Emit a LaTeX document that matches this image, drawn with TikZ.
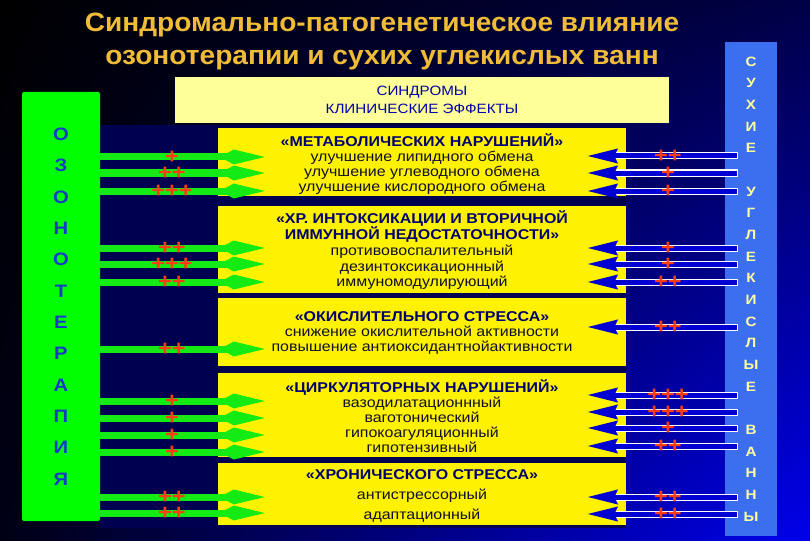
\documentclass[tikz,border=0pt]{standalone}
\usepackage{fontspec}
\setmainfont[FakeStretch=1.125]{Liberation Sans}
\newfontfamily\titlefont[FakeStretch=1.06]{Liberation Sans}
\usetikzlibrary{arrows.meta,shadings}
\definecolor{bgtopright}{RGB}{0,0,70}
\definecolor{bgbotleft}{RGB}{0,0,20}
\definecolor{bgbotright}{RGB}{0,0,235}
\definecolor{navy}{RGB}{0,0,80}
\definecolor{titlegold}{RGB}{240,188,55}
\definecolor{ozgreen}{RGB}{0,255,0}
\definecolor{argreen}{RGB}{20,235,20}
\definecolor{ozletter}{RGB}{20,60,200}
\definecolor{hdryellow}{RGB}{255,255,153}
\definecolor{hdrtext}{RGB}{0,0,170}
\definecolor{headtext}{RGB}{0,0,110}
\definecolor{itemtext}{RGB}{15,15,45}
\definecolor{plusred}{RGB}{255,60,20}
\definecolor{bathblue}{RGB}{60,110,240}
\definecolor{bathletter}{RGB}{255,255,160}
\definecolor{arblue}{RGB}{0,0,210}
\tikzstyle{title}=[anchor=base, text=titlegold, font=\titlefont\bfseries\fontsize{26.5}{30}\selectfont]
\tikzset{synbox/.style={rectangle, fill=yellow, minimum width=408pt, inner sep=0pt}}
\tikzset{syntext/.style={align=center, text=itemtext, inner sep=0pt, font=\fontsize{14.2}{15.3}\selectfont}}
\tikzset{plus/.style={text=plusred, inner sep=0pt, font=\bfseries\fontsize{21}{21}\selectfont}}
\tikzset{ozarrow/.style={draw=argreen, line width=7pt, -{Kite[length=45pt,width=15pt,inset=14pt]}}}
\tikzset{batharrow/.style={draw=arblue, line width=5pt, -{Stealth[length=30pt,width=14pt,inset=3pt]},
      preaction={draw=white, line width=7pt, arrows=-, shorten >=29pt, shorten <=-1pt}}}
\newcommand{\hd}[1]{{\bfseries\color{headtext}\fontsize{14.2}{15}\selectfont #1}}

\begin{document}
\begin{tikzpicture}[x=1pt,y=-1pt]
		\useasboundingbox (0,0) rectangle (810,540);
		\shade[upper left=black, upper right=bgtopright, lower left=bgbotleft, lower right=bgbotright] (0,0) rectangle (810,540);
		\fill[navy] (100,125) rectangle (626,528);
		\node[title] (title1) at (382,32) {Синдромально-патогенетическое влияние};
		\node[title] (title2) at (382,65) {озонотерапии и сухих углекислых ванн};
		\node[fill=hdryellow, minimum width=494pt, minimum height=46pt, inner sep=0pt, align=center, text=hdrtext,
			font=\fontsize{13.5}{18}\selectfont] (hdr) at (422,100) {СИНДРОМЫ\\КЛИНИЧЕСКИЕ ЭФФЕКТЫ};
		\node[fill=ozgreen, minimum width=78pt, minimum height=429pt, inner sep=0pt, rounded corners=2pt, align=center,
			text=ozletter, font=\bfseries\fontsize{18}{31.36}\selectfont] (oz) at (61,306.5)
			{О\\З\\О\\Н\\О\\Т\\Е\\Р\\А\\П\\И\\Я};
		\node[fill=bathblue, minimum width=52pt, minimum height=494pt, inner sep=0pt, align=center,
			text=bathletter, font=\bfseries\fontsize{13.5}{21.67}\selectfont] (rc) at (751,289)
			{С\\У\\Х\\И\\Е\\~\\У\\Г\\Л\\Е\\К\\И\\С\\Л\\Ы\\Е\\~\\В\\А\\Н\\Н\\Ы};
		\node[synbox, minimum height=68pt] (metab) at (422,162) {};
		\node[synbox, minimum height=87pt] (intox) at (422,249.5) {};
		\node[synbox, minimum height=68pt] (oxid) at (422,332) {};
		\node[synbox, minimum height=84pt] (circ) at (422,415) {};
		\node[synbox, minimum height=62pt] (chron) at (422,494) {};
		\node[syntext] (metabtxt) at (422,164) {\hd{«МЕТАБОЛИЧЕСКИХ НАРУШЕНИЙ»}\\улучшение липидного обмена\\улучшение углеводного обмена\\улучшение кислородного обмена};
		\node[syntext, font=\fontsize{14.2}{15.75}\selectfont] (intoxtxt) at (422,250.5) {\hd{«ХР. ИНТОКСИКАЦИИ И ВТОРИЧНОЙ}\\\hd{ИММУННОЙ НЕДОСТАТОЧНОСТИ»}\\противовоспалительный\\дезинтоксикационный\\иммуномодулирующий};
		\node[syntext, font=\fontsize{14.2}{15}\selectfont] (oxidtxt) at (422,333) {\hd{«ОКИСЛИТЕЛЬНОГО СТРЕССА»}\\снижение окислительной активности\\повышение антиоксидантнойактивности};
		\node[syntext, font=\fontsize{14.2}{15}\selectfont] (circtxt) at (422,416) {\hd{«ЦИРКУЛЯТОРНЫХ НАРУШЕНИЙ»}\\вазодилатационнный\\ваготонический\\гипокоагуляционный\\гипотензивный};
		\node[syntext, font=\fontsize{14.2}{20}\selectfont] (chrontxt) at (422,496) {\hd{«ХРОНИЧЕСКОГО СТРЕССА»}\\антистрессорный\\адаптационный};
		\draw[ozarrow] (oz.east |- 0,157) -- node[plus, pos=.436] (pl1) {+} ([xshift=47pt]metab.west |- 0,157);
		\draw[ozarrow] (oz.east |- 0,173) -- node[plus, pos=.436] (pl2) {++} ([xshift=47pt]metab.west |- 0,173);
		\draw[ozarrow] (oz.east |- 0,191) -- node[plus, pos=.436] (pl3) {+++} ([xshift=47pt]metab.west |- 0,191);
		\draw[ozarrow] (oz.east |- 0,248) -- node[plus, pos=.436] (pl4) {++} ([xshift=47pt]intox.west |- 0,248);
		\draw[ozarrow] (oz.east |- 0,264) -- node[plus, pos=.436] (pl5) {+++} ([xshift=47pt]intox.west |- 0,264);
		\draw[ozarrow] (oz.east |- 0,282) -- node[plus, pos=.436] (pl6) {++} ([xshift=47pt]intox.west |- 0,282);
		\draw[ozarrow] (oz.east |- 0,349) -- node[plus, pos=.436] (pl7) {++} ([xshift=47pt]oxid.west |- 0,349);
		\draw[ozarrow] (oz.east |- 0,401) -- node[plus, pos=.436] (pl8) {+} ([xshift=47pt]circ.west |- 0,401);
		\draw[ozarrow] (oz.east |- 0,418) -- node[plus, pos=.436] (pl9) {+} ([xshift=47pt]circ.west |- 0,418);
		\draw[ozarrow] (oz.east |- 0,435) -- node[plus, pos=.436] (pl10) {+} ([xshift=47pt]circ.west |- 0,435);
		\draw[ozarrow] (oz.east |- 0,452) -- node[plus, pos=.436] (pl11) {+} ([xshift=47pt]circ.west |- 0,452);
		\draw[ozarrow] (oz.east |- 0,497) -- node[plus, pos=.436] (pl12) {++} ([xshift=47pt]chron.west |- 0,497);
		\draw[ozarrow] (oz.east |- 0,513) -- node[plus, pos=.436] (pl13) {++} ([xshift=47pt]chron.west |- 0,513);
		\draw[batharrow] ([xshift=12pt]rc.west |- 0,156) -- node[plus, pos=.46] (pr1) {++} ([xshift=-39pt]metab.east |- 0,156);
		\draw[batharrow] ([xshift=12pt]rc.west |- 0,173) -- node[plus, pos=.46] (pr2) {+} ([xshift=-39pt]metab.east |- 0,173);
		\draw[batharrow] ([xshift=12pt]rc.west |- 0,191) -- node[plus, pos=.46] (pr3) {+} ([xshift=-39pt]metab.east |- 0,191);
		\draw[batharrow] ([xshift=12pt]rc.west |- 0,248) -- node[plus, pos=.46] (pr4) {+} ([xshift=-39pt]intox.east |- 0,248);
		\draw[batharrow] ([xshift=12pt]rc.west |- 0,264) -- node[plus, pos=.46] (pr5) {+} ([xshift=-39pt]intox.east |- 0,264);
		\draw[batharrow] ([xshift=12pt]rc.west |- 0,282) -- node[plus, pos=.46] (pr6) {++} ([xshift=-39pt]intox.east |- 0,282);
		\draw[batharrow] ([xshift=12pt]rc.west |- 0,327) -- node[plus, pos=.46] (pr7) {++} ([xshift=-39pt]oxid.east |- 0,327);
		\draw[batharrow] ([xshift=12pt]rc.west |- 0,395) -- node[plus, pos=.46] (pr8) {+++} ([xshift=-39pt]circ.east |- 0,395);
		\draw[batharrow] ([xshift=12pt]rc.west |- 0,412) -- node[plus, pos=.46] (pr9) {+++} ([xshift=-39pt]circ.east |- 0,412);
		\draw[batharrow] ([xshift=12pt]rc.west |- 0,428) -- node[plus, pos=.46] (pr10) {+} ([xshift=-39pt]circ.east |- 0,428);
		\draw[batharrow] ([xshift=12pt]rc.west |- 0,446) -- node[plus, pos=.46] (pr11) {++} ([xshift=-39pt]circ.east |- 0,446);
		\draw[batharrow] ([xshift=12pt]rc.west |- 0,497) -- node[plus, pos=.46] (pr12) {++} ([xshift=-39pt]chron.east |- 0,497);
		\draw[batharrow] ([xshift=12pt]rc.west |- 0,514) -- node[plus, pos=.46] (pr13) {++} ([xshift=-39pt]chron.east |- 0,514);
\end{tikzpicture}
\end{document}
